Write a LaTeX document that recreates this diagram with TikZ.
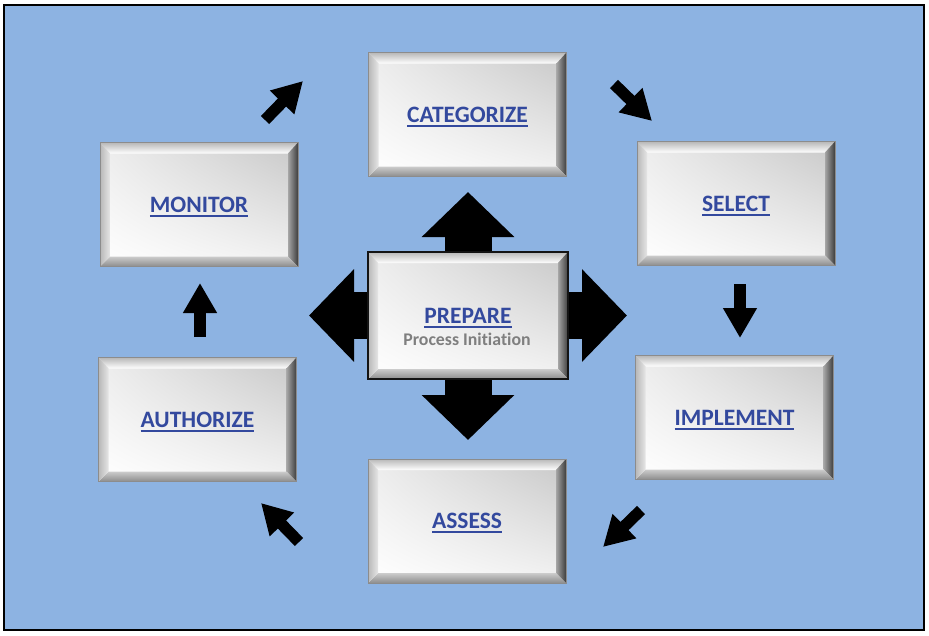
\documentclass[tikz,border=0pt]{standalone}
\usepackage{fontspec}
\setmainfont{Carlito}[RawFeature={-liga}]
\usetikzlibrary{arrows.meta,calc,shadings}
\definecolor{bgblue}{HTML}{8DB3E2}
\definecolor{txtblue}{HTML}{33499E}
\definecolor{txtgray}{HTML}{7F7F7F}
\definecolor{edgegray}{HTML}{8C8C8C}
\pgfdeclarelayer{back}
\pgfdeclarelayer{arrowlayer}
\pgfsetlayers{back,arrowlayer,main}
\newcommand\ulbl[1]{\setbox0\hbox{#1}\rlap{\smash{\rule[-4.6pt]{\wd0}{2.2pt}}}\box0}
\newcommand\bevelsides{%
  \coordinate (bNW) at (path picture bounding box.north west);
  \coordinate (bNE) at (path picture bounding box.north east);
  \coordinate (bSW) at (path picture bounding box.south west);
  \coordinate (bSE) at (path picture bounding box.south east);
  \coordinate (iNW) at ($(bNW)+(10pt,-11pt)$);
  \coordinate (iNE) at ($(bNE)+(-10pt,-11pt)$);
  \coordinate (iSW) at ($(bSW)+(10pt,10pt)$);
  \coordinate (iSE) at ($(bSE)+(-10pt,10pt)$);
  \shade[top color=black!28, bottom color=white] (bNW) -- (bNE) -- (iNE) -- (iNW) -- cycle;
  \shade[left color=black!35, right color=black!76] (bNE) -- (bSE) -- (iSE) -- (iNE) -- cycle;
  \shade[top color=black!20, bottom color=black!45] (bSE) -- (bSW) -- (iSW) -- (iSE) -- cycle;
  \shade[left color=black!28, right color=black!10] (bSW) -- (bNW) -- (iNW) -- (iSW) -- cycle;
}
\tikzset{
  bevelbox/.style={rectangle, minimum width=198pt, minimum height=124pt, inner sep=0pt,
    draw=edgegray, line width=0.6pt,
    upper left=black!7, upper right=black!22, lower left=white, lower right=black!5,
    font=\fontsize{23.5}{26}\selectfont\bfseries, text=txtblue,
    path picture={\bevelsides}},
  centerbox/.style={bevelbox, minimum width=200pt, minimum height=127pt,
    draw=black!92, line width=2pt},
  subtext/.style={font=\fontsize{17.8}{20}\selectfont\bfseries, text=txtgray, inner sep=0pt},
  bigarrow/.style={draw=black, line width=47pt, -{Triangle[width=90pt,length=45pt]}},
  smallarrow/.style={draw=black, line width=11.5pt, -{Triangle[width=32pt,length=30pt]}},
}
\begin{document}
\begin{tikzpicture}[x=1pt,y=-1pt]
\useasboundingbox (0,0) rectangle (929,635);
\begin{pgfonlayer}{back}
  \fill[white] (0,0) rectangle (929,635);
  \draw[fill=bgblue, line width=2.5pt] (4,5) rectangle (924,630);
\end{pgfonlayer}

\node[bevelbox] (categorize) at (467.5,114.5) {\ulbl{CATEGORIZE}};
\node[bevelbox] (select) at (736,203.5) {\ulbl{SELECT}};
\node[bevelbox] (implement) at (734.5,417.5) {\ulbl{IMPLEMENT}};
\node[bevelbox] (assess) at (467,521) {\ulbl{ASSESS}};
\node[bevelbox] (authorize) at (197.5,419.5) {\ulbl{AUTHORIZE}};
\node[bevelbox] (monitor) at (199,204.5) {\ulbl{MONITOR}};
\node[centerbox] (prepare) at (468,315.5) {\ulbl{PREPARE}};
\node[subtext] (prepsub) at (467,339.5) {Process Initiation};

\coordinate (tipN) at (468,192);
\coordinate (tipS) at (468,440);
\coordinate (tipW) at (309,315.5);
\coordinate (tipE) at (627,315.5);
\begin{pgfonlayer}{arrowlayer}
  \draw[bigarrow] (prepare.center) -- (tipN);
  \draw[bigarrow] (prepare.center) -- (tipS);
  \draw[bigarrow] (prepare.center) -- (tipW);
  \draw[bigarrow] (prepare.center) -- (tipE);
\end{pgfonlayer}

\coordinate (a1s) at (265,120);  \coordinate (a1e) at (303,81);
\coordinate (a2s) at (614,84);   \coordinate (a2e) at (652,121);
\coordinate (a3s) at (740,284);  \coordinate (a3e) at (740,338);
\coordinate (a4s) at (641,510);  \coordinate (a4e) at (603,547);
\coordinate (a5s) at (299,542);  \coordinate (a5e) at (261,503);
\coordinate (a6s) at (200,337);  \coordinate (a6e) at (200,283);
\draw[smallarrow] (a1s) -- (a1e);
\draw[smallarrow] (a2s) -- (a2e);
\draw[smallarrow] (a3s) -- (a3e);
\draw[smallarrow] (a4s) -- (a4e);
\draw[smallarrow] (a5s) -- (a5e);
\draw[smallarrow] (a6s) -- (a6e);
\end{tikzpicture}
\end{document}
